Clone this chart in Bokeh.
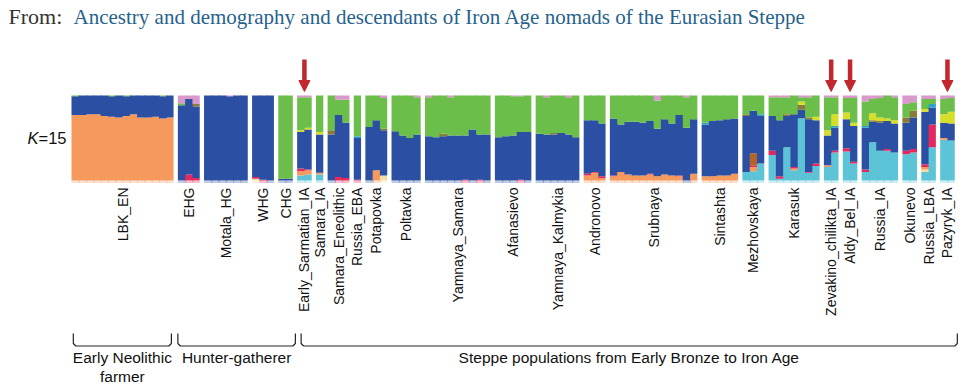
import math
from bokeh.plotting import figure
from bokeh.models import ColumnDataSource, Range1d, Arrow, NormalHead
from bokeh.core.properties import value
from bokeh.embed import file_html
from bokeh.resources import INLINE

# ---------------- data ----------------
GROUPS = ["LBK_EN", "EHG", "Motala_HG", "WHG", "CHG", "Early_Sarmatian_IA", "Samara_IA",
          "Samara_Eneolithic", "Russia_EBA", "Potapovka", "Poltavka", "Yamnaya_Samara",
          "Afanasievo", "Yamnaya_Kalmykia", "Andronovo", "Srubnaya", "Sintashta",
          "Mezhovskaya", "Karasuk", "Zevakino_chilikta_IA", "Aldy_Bel_IA", "Russia_IA",
          "Okunevo", "Russia_LBA", "Pazyryk_IA"]
N_IND = [14, 3, 6, 3, 2, 2, 1, 3, 1, 3, 4, 9, 5, 6, 3, 12, 5, 3, 7, 2, 2, 5, 2, 2, 2]

# ancestry components, stacked bottom -> top
COMPONENTS = ["cyan", "cream", "orange", "crimson", "brown", "blue", "teal", "olive", "yellow", "green", "pink"]
COLORS = {"cyan": "#5CC4D6", "cream": "#F3DDA8", "orange": "#F6995C", "crimson": "#E5285E",
          "brown": "#B4632A", "blue": "#2A4FA3", "teal": "#2BA3C6", "olive": "#8A7A3B",
          "yellow": "#D6DE2A", "green": "#6BBE4A", "pink": "#D99ACB"}

CYAN = {"Early_Sarmatian_IA": [.06, .07], "Samara_IA": [.07], "Mezhovskaya": [.10, .11, .20],
        "Karasuk": [.30, .02, .39, .12, .74, .09, .17], "Zevakino_chilikta_IA": [.16, .33],
        "Aldy_Bel_IA": [.34, .20], "Russia_IA": [.10, .45, .35, .35, .33], "Okunevo": [.31, .33],
        "Russia_LBA": [.10, .39], "Pazyryk_IA": [.48, .47]}
CREAM = {"WHG": [.02, 0, 0], "Potapovka": [0, 0, .06], "Russia_LBA": [.03, 0]}
ORANGE = {"LBK_EN": [.77, .77, .78, .78, .76, .75, .74, .76, .78, .74, .74, .75, .73, .74],
          "Early_Sarmatian_IA": [.05, .05], "Samara_IA": [.02], "Potapovka": [0, .12, 0],
          "Andronovo": [.06, .09, .03],
          "Srubnaya": [.05, .10, .07, .06, .06, .07, .05, .07, .06, .05, 0, .08],
          "Sintashta": [.05, .05, .06, .06, .08], "Mezhovskaya": [0, .05, 0],
          "Karasuk": [0, 0, 0, .02, 0, 0, 0], "Zevakino_chilikta_IA": [.02, 0],
          "Russia_LBA": [.03, 0], "Pazyryk_IA": [.02, 0]}
CRIMSON = {"EHG": [0, .07, .03], "WHG": [.02, .01, 0], "Early_Sarmatian_IA": [.03, .01],
           "Samara_Eneolithic": [0, .04, .03], "Russia_EBA": [.01],
           "Yamnaya_Samara": [0, 0, 0, 0, 0, .01, 0, .01, 0], "Afanasievo": [0, 0, 0, .01, 0],
           "Andronovo": [.02, .01, .02], "Srubnaya": [.01, 0, 0, 0, 0, .01, 0, 0, 0, .01, 0, 0],
           "Mezhovskaya": [0, .02, 0], "Karasuk": [.05, .03, 0, .02, 0, .01, .03],
           "Zevakino_chilikta_IA": [0, .02], "Aldy_Bel_IA": [.04, .02],
           "Russia_IA": [.03, 0, 0, .02, 0], "Okunevo": [.04, .04], "Russia_LBA": [.03, .27]}
BROWN = {"Mezhovskaya": [0, .14, 0]}
BLUE = {"LBK_EN": [.22, .23, .22, .22, .24, .24, .26, .23, .22, .26, .26, .25, .26, .26],
        "EHG": [.885, .89, .84], "Motala_HG": [1, 1, 1, .99, 1, 1], "WHG": [.96, .99, 1],
        "CHG": [.02, .02], "Early_Sarmatian_IA": [.43, .47], "Samara_IA": [.45],
        "Samara_Eneolithic": [.54, .73, .65], "Russia_EBA": [.49], "Potapovka": [.63, .59, .53],
        "Poltavka": [.58, .53, .50, .54],
        "Yamnaya_Samara": [.52, .51, .52, .53, .53, .52, .60, .53, .54],
        "Afanasievo": [.51, .52, .53, .56, .57],
        "Yamnaya_Kalmykia": [.55, .54, .54, .56, .54, .51], "Andronovo": [.63, .61, .62],
        "Srubnaya": [.67, .56, .62, .63, .62, .62, .56, .65, .61, .71, .62, .64],
        "Sintashta": [.61, .65, .65, .66, .65], "Mezhovskaya": [.66, .50, .56],
        "Karasuk": [.41, .66, .37, .62, .10, .62, .51], "Zevakino_chilikta_IA": [.35, .27],
        "Aldy_Bel_IA": [.34, .42], "Russia_IA": [.49, .24, .33, .33, .34],
        "Okunevo": [.33, .37], "Russia_LBA": [.62, .20], "Pazyryk_IA": [.18, .20]}
TEAL = {"Russia_EBA": [.02], "Sintashta": [.02, 0, 0, 0, 0], "Mezhovskaya": [0, 0, .02],
        "Zevakino_chilikta_IA": [0, .02], "Russia_IA": [.02, 0, 0, 0, 0], "Russia_LBA": [0, .04]}
OLIVE = {"EHG": [0, 0, .03], "Samara_Eneolithic": [.05, 0, 0], "Potapovka": [0, 0, .02],
         "Yamnaya_Samara": [0, 0, .03, 0, 0, 0, 0, 0, 0], "Yamnaya_Kalmykia": [0, 0, .02, 0, 0, 0],
         "Mezhovskaya": [.02, 0, 0], "Karasuk": [0, 0, .02, 0, .06, .02, 0],
         "Russia_IA": [0, .02, .02, 0, 0], "Okunevo": [.06, .08]}
YELLOW = {"Early_Sarmatian_IA": [.02, .02], "Samara_IA": [.03],
          "Karasuk": [0, 0, 0, 0, .04, 0, .04], "Zevakino_chilikta_IA": [.06, .14],
          "Aldy_Bel_IA": [.08, .04], "Russia_IA": [0, .08, .04, .03, .04],
          "Russia_LBA": [.03, 0], "Pazyryk_IA": [.10, .14]}
GREEN = {"LBK_EN": [.01, 0, 0, 0, 0, .01, 0, .01, 0, 0, 0, 0, .01, 0], "EHG": [.025, 0, 0],
         "CHG": [.98, .98], "Early_Sarmatian_IA": [.39, .36], "Samara_IA": [.43],
         "Samara_Eneolithic": [.41, .18, .27], "Russia_EBA": [.48], "Potapovka": [.37, .29, .36],
         "Poltavka": [.42, .47, .50, .44],
         "Yamnaya_Samara": [.46, .49, .45, .45, .47, .47, .40, .46, .46],
         "Afanasievo": [.49, .48, .46, .42, .43],
         "Yamnaya_Kalmykia": [.45, .44, .44, .44, .44, .49], "Andronovo": [.29, .29, .33],
         "Srubnaya": [.27, .34, .31, .31, .32, .30, .33, .28, .33, .23, .36, .28],
         "Sintashta": [.32, .30, .29, .28, .27], "Mezhovskaya": [.22, .18, .22],
         "Karasuk": [.22, .27, .20, .22, .05, .24, .25], "Zevakino_chilikta_IA": [.39, .20],
         "Aldy_Bel_IA": [.17, .29], "Russia_IA": [.29, .17, .23, .27, .27],
         "Okunevo": [.16, .10], "Russia_LBA": [.12, .06], "Pazyryk_IA": [.18, .16]}
PINK = {"EHG": [.09, .04, .10], "Motala_HG": [0, 0, 0, .01, 0, 0], "Early_Sarmatian_IA": [.02, .02],
        "Samara_Eneolithic": [0, .05, .05], "Potapovka": [0, 0, .03], "Poltavka": [0, 0, 0, .02],
        "Yamnaya_Samara": [.02, 0, 0, .02, 0, 0, 0, 0, 0], "Afanasievo": [0, 0, .01, .01, 0],
        "Yamnaya_Kalmykia": [0, .02, 0, 0, .02, 0],
        "Srubnaya": [0, 0, 0, 0, 0, 0, .06, 0, 0, 0, .02, 0],
        "Karasuk": [.02, .02, .02, 0, .02, .02, 0], "Zevakino_chilikta_IA": [.02, .02],
        "Aldy_Bel_IA": [.03, .03], "Russia_IA": [.07, .04, .03, 0, .02],
        "Okunevo": [.10, .08], "Russia_LBA": [.04, .04], "Pazyryk_IA": [.04, .03]}

ARROW_GROUPS = ["Early_Sarmatian_IA", "Zevakino_chilikta_IA", "Aldy_Bel_IA", "Pazyryk_IA"]
BRACKET_TEXT = ["Early Neolithic", "Hunter-gatherer", "Steppe populations from Early Bronze to Iron Age"]
BRACKET_TEXT2 = ["farmer", "", ""]
BRACKET_FIRST = ["LBK_EN", "EHG", "Early_Sarmatian_IA"]
BRACKET_LAST = ["LBK_EN", "CHG", "Pazyryk_IA"]
TITLE_PREFIX = "From:"
TITLE_LINK = "Ancestry and demography and descendants of Iron Age nomads of the Eurasian Steppe"
K_VALUE = "15"

COMP_DATA = {"cyan": CYAN, "cream": CREAM, "orange": ORANGE, "crimson": CRIMSON, "brown": BROWN,
             "blue": BLUE, "teal": TEAL, "olive": OLIVE, "yellow": YELLOW, "green": GREEN, "pink": PINK}

# ---------------- layout ----------------
W, H = 976, 386
ORIGIN = 0           # canvas is placed at the page's top-left corner
BAR_LEFT = 71.0      # page px of first bar
UNIT = 7.29          # px per individual
GAP = 0.59           # gap between populations (in individuals)
BAR_BOTTOM = 180.0   # page px
PXY = 85.0           # px per ancestry unit


def X(px):
    return (px - BAR_LEFT) / UNIT


def Y(py):
    return (BAR_BOTTOM - py) / PXY


p = figure(width=W, height=H, output_backend="svg", toolbar_location=None,
           x_range=Range1d(X(ORIGIN), X(ORIGIN + W)), y_range=Range1d(Y(ORIGIN + H), Y(ORIGIN)),
           x_axis_type=None, y_axis_type=None, min_border=0)
p.grid.visible = False
p.outline_line_color = None
p.background_fill_color = "white"
p.border_fill_color = "white"

# positions
g_left, g_right = [], []
cur = 0.0
for n in N_IND:
    g_left.append(cur)
    g_right.append(cur + n)
    cur += n + GAP
g_center = [(a + b) / 2 for a, b in zip(g_left, g_right)]
gidx = {g: i for i, g in enumerate(GROUPS)}

EPS = 1.0 / UNIT   # small horizontal overlap so adjacent individuals show no seam
L, R, B, T, C = [], [], [], [], []
sL, sR, sC = [], [], []
for gi, g in enumerate(GROUPS):
    n = N_IND[gi]
    for k in range(n):
        vals = [COMP_DATA[c].get(g, [0] * n)[k] for c in COMPONENTS]
        tot = sum(vals)
        base = 0.0
        first = None
        lft = g_left[gi] + k
        rgt = g_left[gi] + k + 1 + (EPS if k < n - 1 else 0.0)
        for c, v in zip(COMPONENTS, vals):
            if v <= 0:
                continue
            frac = v / tot
            L.append(lft)
            R.append(rgt)
            B.append(base)
            T.append(base + frac)
            C.append(COLORS[c])
            if first is None:
                first = COLORS[c]
            base += frac
        sL.append(lft)
        sR.append(rgt)
        sC.append(first)

src = ColumnDataSource(dict(left=L, right=R, bottom=B, top=T, color=C))
p.quad(left="left", right="right", bottom="bottom", top="top", source=src,
       fill_color="color", line_color=None)

# faint under-strip (blur of bottom colour as in the scan)
ssrc = ColumnDataSource(dict(left=sL, right=sR, color=sC))
p.quad(left="left", right="right", bottom=Y(182.5), top=Y(180.2), source=ssrc,
       fill_color="color", fill_alpha=0.3, line_color=None)

# population labels
p.text(x=g_center, y=[Y(187)] * len(GROUPS), text=GROUPS, angle=math.pi / 2,
       text_align="right", text_baseline="middle", text_font=value("Liberation Sans"),
       text_font_size="14px", text_color="#111111")

# K label
p.text(x=[X(27)], y=[Y(137)], text=["K"], text_align="left", text_baseline="middle",
       text_font=value("Liberation Sans"), text_font_style="italic", text_font_size="16.5px",
       text_color="#111111")
p.text(x=[X(38)], y=[Y(137)], text=["=" + K_VALUE], text_align="left", text_baseline="middle",
       text_font=value("Liberation Sans"), text_font_size="16.5px", text_color="#111111")

# arrows
RED = "#C1272D"
acx = [g_center[gidx[g]] for g in ARROW_GROUPS]
asrc = ColumnDataSource(dict(x0=acx, y0=[Y(59)] * len(acx), x1=acx, y1=[Y(91)] * len(acx)))
p.add_layout(Arrow(end=NormalHead(size=11, fill_color=RED, line_color=RED, line_width=1),
                   x_start="x0", y_start="y0", x_end="x1", y_end="y1", source=asrc,
                   line_color=RED, line_width=4.5))

# brackets
cr = 2.5 / UNIT
bxs, bys = [], []
for i in range(len(BRACKET_TEXT)):
    x0 = g_left[gidx[BRACKET_FIRST[i]]] + (0.25 if i == 0 else (0.0 if i == 1 else 0.55))
    x1 = g_right[gidx[BRACKET_LAST[i]]] + (-0.3 if i == 0 else 0.35)
    bxs.append([x0, x0, x0 + cr, x1 - cr, x1, x1])
    bys.append([Y(333), Y(343), Y(345.5), Y(345.5), Y(343), Y(333)])
    cx = (x0 + x1) / 2
    p.text(x=[cx], y=[Y(357)], text=[BRACKET_TEXT[i]], text_align="center", text_baseline="middle",
           text_font=value("Liberation Sans"), text_font_size="15.5px", text_color="#111111")
    if BRACKET_TEXT2[i]:
        p.text(x=[cx], y=[Y(376)], text=[BRACKET_TEXT2[i]], text_align="center",
               text_baseline="middle", text_font=value("Liberation Sans"),
               text_font_size="15.5px", text_color="#111111")
p.multi_line(xs=bxs, ys=bys, line_color="#222222", line_width=1.2)

# title
p.text(x=[X(8)], y=[Y(16)], text=[TITLE_PREFIX], text_align="left", text_baseline="middle",
       text_font=value("Liberation Serif"), text_font_size="22px", text_color="#333333")
p.text(x=[X(73)], y=[Y(16)], text=[TITLE_LINK], text_align="left", text_baseline="middle",
       text_font=value("Liberation Serif"), text_font_size="21px", text_color="#26628C")

open("out.html", "w").write(file_html(p, INLINE))
